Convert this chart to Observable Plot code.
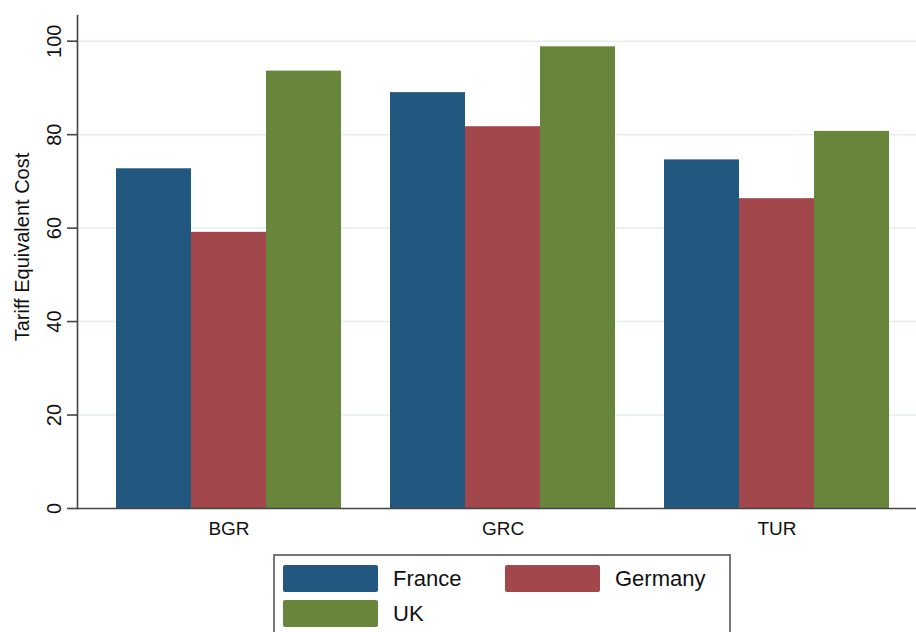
<!DOCTYPE html>
<html>
<head>
<meta charset="utf-8">
<script src="https://cdn.jsdelivr.net/npm/d3@7"></script>
<script src="https://cdn.jsdelivr.net/npm/@observablehq/plot@0.6"></script>
<style>
  html, body { margin: 0; padding: 0; background: #fff; overflow: hidden; }
  body { font-family: "Liberation Sans", Arial, Helvetica, sans-serif; width: 916px; height: 632px; }
  #chart svg { display: block; overflow: hidden; }
  #legend {
    margin-left: 273px;
    width: 458px;
    height: 90px;
    border: 2px solid #777;
    box-sizing: border-box;
    padding: 9px 0 0 8px;
    display: grid;
    grid-template-columns: 222px 222px;
    grid-auto-rows: 27px;
    align-content: start;
    row-gap: 8px;
  }
  .item { display: flex; align-items: center; height: 27px; font-size: 22px; color: #111; }
  .sw { width: 95px; height: 27px; border-radius: 2px; margin-right: 15px; flex: none; }
</style>
</head>
<body>
<div id="chart"></div>
<div id="legend"></div>
<script>
const countries = ["BGR", "GRC", "TUR"];
const series = ["France", "Germany", "UK"];
const france = [72.7, 89.0, 74.6];
const germany = [59.1, 81.7, 66.3];
const uk = [93.6, 98.8, 80.7];
const yTicks = [0, 20, 40, 60, 80, 100];
const colors = ["#22587f", "#a2484c", "#67853b"];
const yLabel = "Tariff Equivalent Cost";

const valuesBySeries = [france, germany, uk];
const rows = [];
countries.forEach((c, i) => {
  series.forEach((s, j) => rows.push({country: c, series: s, value: valuesBySeries[j][i]}));
});

const W = 916, H = 554, mL = 77, mR = -12, mT = 15, mB = 46;
const padIn = 0.1788, padOut = 0.1423;
// width of one bar inside a group band (band split evenly among the series)
const band = d3.scaleBand(countries, [mL, W - mR]).paddingInner(padIn).paddingOuter(padOut).bandwidth();
const sub = band / series.length;

const barMarks = series.map((s, j) => Plot.barY(rows.filter(r => r.series === s), {
  x: "country", y: "value", fill: "series",
  insetLeft: j * sub, insetRight: (series.length - 1 - j) * sub
}));

const chart = Plot.plot({
  width: W,
  height: H,
  marginLeft: mL,
  marginRight: mR,
  marginTop: mT,
  marginBottom: mB,
  style: {fontFamily: "Liberation Sans, Arial, sans-serif", color: "#111", background: "#fff"},
  x: {domain: countries, paddingInner: padIn, paddingOuter: padOut, axis: null, label: null},
  y: {domain: [0, 105.5], axis: null, label: null},
  color: {domain: series, range: colors},
  marks: [
    Plot.gridY(yTicks.filter(d => d > 0), {stroke: "#e3eef0", strokeOpacity: 1, strokeWidth: 1.5}),
    ...barMarks,
    Plot.ruleY([0], {stroke: "#444", strokeWidth: 1.6}),
    Plot.frame({anchor: "left", stroke: "#444", strokeWidth: 1.6}),
    Plot.axisY({ticks: yTicks, tickSize: 10, tickRotate: -90, tickPadding: 7, fontSize: 20, stroke: "#444", strokeWidth: 1.6, label: null}),
    Plot.axisX({anchor: "bottom", tickSize: 0, tickPadding: 13, fontSize: 19, label: null}),
    Plot.text([yLabel], {frameAnchor: "left", textAnchor: "middle", lineAnchor: "middle", text: d => d, rotate: -90, dx: -55, dy: -15, fontSize: 20})
  ]
});
document.getElementById("chart").appendChild(chart);

const legend = document.getElementById("legend");
series.forEach((s, i) => {
  const item = document.createElement("div");
  item.className = "item";
  const sw = document.createElement("span");
  sw.className = "sw";
  sw.style.background = colors[i];
  const lab = document.createElement("span");
  lab.textContent = s;
  item.appendChild(sw);
  item.appendChild(lab);
  legend.appendChild(item);
});
</script>
</body>
</html>
